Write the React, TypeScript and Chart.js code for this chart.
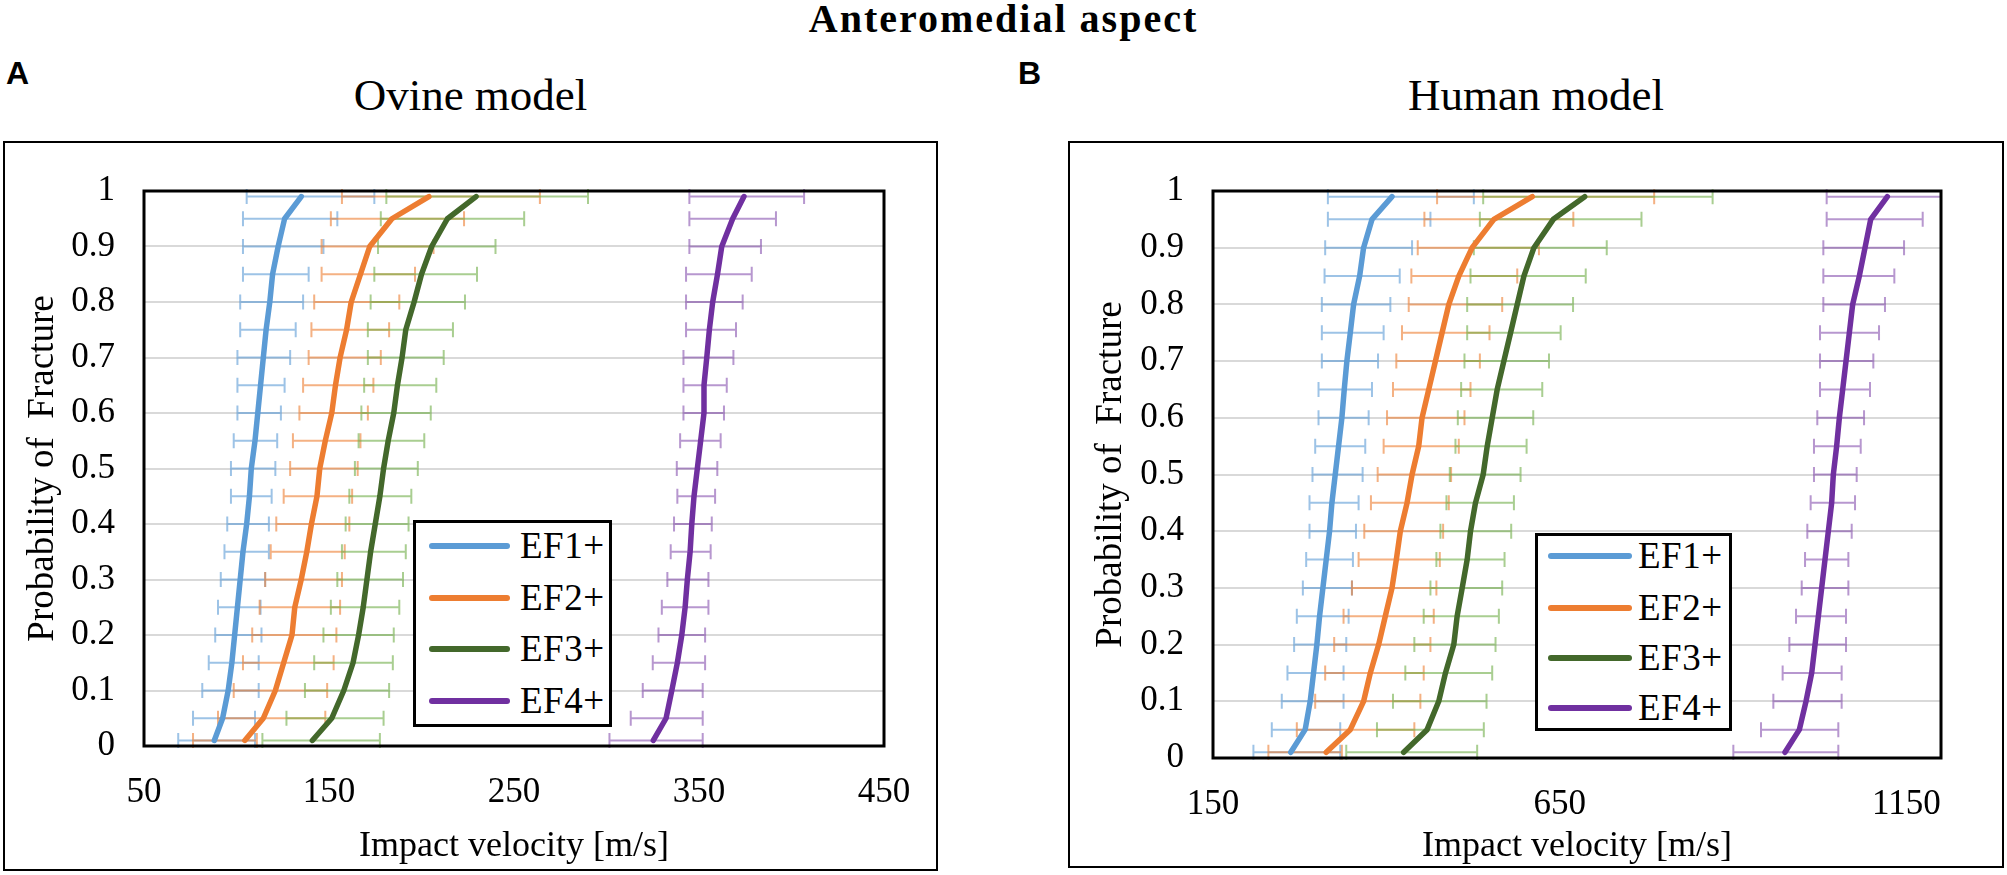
import React, { useEffect, useRef } from "react";
import Chart from "chart.js/auto";

Chart.defaults.font.family = "'Liberation Serif', 'Times New Roman', serif";
Chart.defaults.color = "#000";

// probability levels shared by every curve (end points sit just inside 0 and 1)
const probability = [0.01, 0.05, 0.1, 0.15, 0.2, 0.25, 0.3, 0.35, 0.4, 0.45, 0.5, 0.55, 0.6, 0.65, 0.7, 0.75, 0.8, 0.85, 0.9, 0.95, 0.99];
const yTicks = [0, 0.1, 0.2, 0.3, 0.4, 0.5, 0.6, 0.7, 0.8, 0.9, 1];
const ovineTicks = [50, 150, 250, 350, 450];
const humanTicks = [150, 650, 1150];
const seriesNames = ["EF1+", "EF2+", "EF3+", "EF4+"];

// Ovine model (panel A): mean velocity and error bar ends
const ovineEF1 = [88, 92.5, 95.5, 97.5, 99, 100.5, 102, 103.5, 105.5, 107, 108, 110, 111.5, 113, 114.5, 116, 118, 119.5, 122.5, 126, 135];
const ovineEF1Low = [68.5, 76.5, 81.5, 85, 88.5, 90, 91.5, 93.5, 95, 97, 97, 98.5, 100.5, 100.5, 100.5, 102, 102, 103.5, 103.5, 103.5, 105.5];
const ovineEF1High = [110, 110, 112, 112, 113.5, 113, 115.5, 117.5, 117.5, 119, 121, 122, 124, 126, 129, 132, 136, 139, 147, 154.5, 174.5];

const ovineEF2 = [104.5, 114.5, 121, 125.5, 130, 131.5, 135, 138, 140.5, 143.5, 145, 148, 151.5, 153.5, 156, 159.5, 162, 167, 172, 184, 204];
const ovineEF2Low = [76.5, 90, 98.5, 103.5, 108.5, 112.5, 115.5, 118.5, 121.5, 125.5, 129, 130.5, 134, 136, 139, 140.5, 142, 146, 146, 151, 157];
const ovineEF2High = [111, 148, 149, 152.5, 154, 156, 157, 158.5, 161, 162.5, 165.5, 167, 171, 174, 178, 182.5, 188, 196.5, 206.5, 223, 264];

const ovineEF3 = [141, 151.5, 158, 163, 166, 168.5, 170.5, 172.5, 175, 177.5, 179.5, 182, 185, 187, 189.5, 191.5, 196, 200, 205.5, 214, 229.5];
const ovineEF3Low = [114, 127, 137, 142, 147, 151, 154.5, 157, 159, 161, 164, 166, 167.5, 169, 171, 171, 172.5, 174.5, 176.5, 178, 181];
const ovineEF3High = [177.5, 179.5, 182.5, 184.5, 185, 188, 190, 191.5, 193, 194.5, 198, 201.5, 205, 208, 212, 217, 223.5, 230, 240, 255.5, 290];

const ovineEF4 = [325.3, 332.2, 335.3, 338.3, 340.7, 342.5, 343.7, 345.2, 346.1, 347.3, 349.1, 350.9, 352.7, 352.7, 354.2, 355.6, 357.4, 360, 362.3, 368.2, 374.3];
const ovineEF4Low = [301.6, 313.1, 319.6, 325, 328.1, 329.9, 332.9, 334.7, 336.5, 338.3, 338, 339.8, 341.6, 341.6, 341.6, 343, 343, 343, 344.8, 344.8, 344.8];
const ovineEF4High = [352, 352, 352, 353.3, 353.3, 355.1, 355.1, 356.3, 356.9, 358.7, 359.9, 361.7, 363.5, 365, 368.6, 370, 373.6, 378.5, 383.5, 391.6, 406.8];

// Human model (panel B)
const humanEF1 = [262.2, 282.9, 290.2, 295, 299.8, 303.7, 308.5, 313.3, 318.1, 321.5, 326.3, 331.1, 335.9, 339.3, 343.1, 348, 352.8, 361.5, 367.2, 379.3, 408.2];
const humanEF1Low = [208.3, 234.8, 249.2, 257.4, 267, 270.9, 279.6, 284.4, 289.2, 289.2, 293.5, 297.4, 302.2, 302.2, 307, 307, 307, 310.9, 311.8, 315.7, 315.7];
const humanEF1High = [333.5, 333.5, 338.3, 338.3, 342.2, 345.6, 350.4, 351.8, 356.2, 360, 365.8, 369.6, 374.5, 379.3, 388, 396.1, 405.8, 419.3, 437.1, 463.6, 526.2];

const humanEF2 = [313.3, 348, 367.2, 376.9, 388.9, 398.5, 408.2, 414.4, 420.2, 429.9, 437.1, 446.7, 451.5, 461.2, 470.8, 480.4, 490.1, 504.5, 523.8, 555.1, 610.5];
const humanEF2Low = [229.9, 270.9, 297.4, 311.8, 324.8, 338.3, 350.4, 360, 368.2, 377.8, 387.5, 396.1, 401, 409.6, 414.4, 422.6, 432.3, 436.1, 445.3, 454.9, 473.2];
const humanEF2High = [335.9, 440.4, 449.1, 453.9, 463.6, 468.4, 472.2, 477.1, 481.9, 490.1, 493.4, 504.5, 512.7, 521.4, 534.9, 548.8, 567.1, 588.8, 620.1, 669.7, 786.3];

const humanEF3 = [425, 458.8, 475.6, 485.3, 497.3, 502.1, 509.4, 516.6, 521.4, 528.6, 539.7, 545.5, 552.7, 559.9, 569.5, 579.2, 588.8, 598.4, 612.9, 640.8, 686.1];
const humanEF3Low = [342.2, 386.5, 409.6, 427.4, 440.4, 453.9, 463.6, 472.2, 478, 486.7, 491.5, 499.7, 503.1, 507.9, 512.7, 516.6, 516.6, 521.4, 526.2, 534.9, 539.7];
const humanEF3High = [531, 540.6, 544.5, 552.7, 557.5, 562.3, 567.1, 570.5, 580.1, 584, 593.6, 602.3, 611.9, 624.9, 634.6, 651.4, 669.3, 687.6, 717.9, 768, 870.6];

const humanEF4 = [975, 995.7, 1005.3, 1013.5, 1018.3, 1023.1, 1027.9, 1032.7, 1037.5, 1042.3, 1044.7, 1049.5, 1053.4, 1058.2, 1063, 1067.8, 1072.6, 1082.2, 1090.4, 1098.6, 1122.6];
const humanEF4Low = [900.5, 940.4, 958.2, 971.6, 981.3, 990.9, 999.1, 1003.9, 1007.2, 1012, 1016.8, 1016.8, 1021.6, 1025.5, 1025.5, 1025.5, 1030.3, 1030.3, 1030.3, 1035.1, 1035.1];
const humanEF4High = [1051.9, 1051.9, 1056.7, 1056.7, 1063, 1063, 1066.4, 1066.4, 1071.2, 1076, 1078.4, 1084.2, 1089, 1097.6, 1102.4, 1110.6, 1119.2, 1132.7, 1146.7, 1173.6, 1210];

const LINE_COLORS = ["#5B9BD5", "#ED7D31", "#43682B", "#7030A0"];
const BAR_COLORS = [
  "rgba(91, 155, 213, 0.6)",
  "rgba(237, 125, 49, 0.6)",
  "rgba(112, 173, 71, 0.6)",
  "rgba(112, 48, 160, 0.5)",
];

interface Series {
  mid: number[];
  low: number[];
  high: number[];
}

const ovineSeries: Series[] = [
  { mid: ovineEF1, low: ovineEF1Low, high: ovineEF1High },
  { mid: ovineEF2, low: ovineEF2Low, high: ovineEF2High },
  { mid: ovineEF3, low: ovineEF3Low, high: ovineEF3High },
  { mid: ovineEF4, low: ovineEF4Low, high: ovineEF4High },
];

const humanSeries: Series[] = [
  { mid: humanEF1, low: humanEF1Low, high: humanEF1High },
  { mid: humanEF2, low: humanEF2Low, high: humanEF2High },
  { mid: humanEF3, low: humanEF3Low, high: humanEF3High },
  { mid: humanEF4, low: humanEF4Low, high: humanEF4High },
];

// horizontal error bars, drawn under the curves
const errorBarPlugin = {
  id: "errorBars",
  beforeDatasetsDraw(chart: any) {
    const { ctx, chartArea, scales } = chart;
    ctx.save();
    ctx.beginPath();
    ctx.rect(chartArea.left, 0, chartArea.right - chartArea.left, chart.height);
    ctx.clip();
    chart.data.datasets.forEach((ds: any) => {
      ctx.strokeStyle = ds.barColor;
      ctx.lineWidth = 2;
      ctx.beginPath();
      ds.data.forEach((pt: any, i: number) => {
        const y = scales.y.getPixelForValue(pt.y);
        const x0 = scales.x.getPixelForValue(ds.low[i]);
        const x1 = scales.x.getPixelForValue(ds.high[i]);
        ctx.moveTo(x0, y);
        ctx.lineTo(x1, y);
        ctx.moveTo(x0, y - 7.5);
        ctx.lineTo(x0, y + 7.5);
        ctx.moveTo(x1, y - 7.5);
        ctx.lineTo(x1, y + 7.5);
      });
      ctx.stroke();
    });
    ctx.restore();
  },
};

const framePlugin = {
  id: "plotFrame",
  afterDraw(chart: any) {
    const { ctx, chartArea } = chart;
    ctx.save();
    ctx.strokeStyle = "#000";
    ctx.lineWidth = 3;
    ctx.strokeRect(chartArea.left, chartArea.top, chartArea.right - chartArea.left, chartArea.bottom - chartArea.top);
    ctx.restore();
  },
};

interface PanelProps {
  left: number;
  top: number;
  width: number;
  height: number;
  xMin: number;
  xMax: number;
  xTicks: number[];
  series: Series[];
  padRight: number;
  yAxisWidth: number;
  xAxisHeight: number;
  yTitlePad: number;
  xTitlePad: number;
}

const ProbabilityPanel: React.FC<PanelProps> = (p) => {
  const canvasRef = useRef<HTMLCanvasElement>(null);

  useEffect(() => {
    if (!canvasRef.current) return;
    const chart = new Chart(canvasRef.current, {
      type: "line",
      data: {
        datasets: p.series.map((s, k) => ({
          label: seriesNames[k],
          data: probability.map((y, i) => ({ x: s.mid[i], y })),
          low: s.low,
          high: s.high,
          barColor: BAR_COLORS[k],
          borderColor: LINE_COLORS[k],
          borderWidth: 5.5,
          borderJoinStyle: "round",
          borderCapStyle: "round",
          pointRadius: 0,
          tension: 0,
        })) as any,
      },
      options: {
        animation: false,
        responsive: false,
        layout: { padding: { top: 39, right: p.padRight, left: 0, bottom: 0 } },
        plugins: { legend: { display: false }, tooltip: { enabled: false } },
        scales: {
          x: {
            type: "linear",
            min: p.xMin,
            max: p.xMax,
            afterFit: (s: any) => {
              s.height = p.xAxisHeight;
            },
            afterBuildTicks: (s: any) => {
              s.ticks = p.xTicks.map((v) => ({ value: v }));
            },
            grid: { display: false, drawTicks: false },
            border: { display: false },
            ticks: { padding: 26, autoSkip: false, maxRotation: 0, font: { size: 35 }, callback: (v: any) => String(v) },
            title: {
              display: true,
              text: "Impact velocity [m/s]",
              font: { size: 36 },
              padding: { top: 0, bottom: p.xTitlePad },
            },
          },
          y: {
            type: "linear",
            min: 0,
            max: 1,
            afterFit: (s: any) => {
              s.width = p.yAxisWidth;
            },
            afterBuildTicks: (s: any) => {
              s.ticks = yTicks.map((v) => ({ value: v }));
            },
            grid: { color: "#d9d9d9", lineWidth: 2, drawTicks: false },
            border: { display: false },
            ticks: { padding: 29, font: { size: 35 }, callback: (v: any) => String(v) },
            title: {
              display: true,
              text: "Probability of  Fracture",
              font: { size: 37 },
              padding: { top: p.yTitlePad, bottom: 0 },
            },
          },
        },
      },
      plugins: [errorBarPlugin, framePlugin],
    });
    return () => chart.destroy();
  }, []);

  return (
    <>
      <canvas
        ref={canvasRef}
        width={p.width}
        height={p.height}
        style={{ position: "absolute", left: p.left, top: p.top, width: p.width, height: p.height }}
      />
      <div
        style={{
          position: "absolute",
          left: p.left,
          top: p.top,
          width: p.width,
          height: p.height,
          border: "2px solid #000",
          boxSizing: "border-box",
          pointerEvents: "none",
        }}
      />
    </>
  );
};

const serif = "'Liberation Serif', 'Times New Roman', serif";
const sans = "'Liberation Sans', Arial, sans-serif";

const Legend: React.FC<{ left: number; top: number; width: number; height: number; rows: number[]; swatchX: number; swatchW: number; textX: number }> = (l) => (
  <div
    style={{
      position: "absolute",
      left: l.left,
      top: l.top,
      width: l.width,
      height: l.height,
      border: "3px solid #000",
      boxSizing: "border-box",
      background: "#fff",
    }}
  >
    {seriesNames.map((name, k) => (
      <React.Fragment key={name}>
        <div
          style={{
            position: "absolute",
            left: l.swatchX - 3,
            top: l.rows[k] - 3 - 3,
            width: l.swatchW,
            height: 6,
            borderRadius: 3,
            background: LINE_COLORS[k],
          }}
        />
        <div
          style={{
            position: "absolute",
            left: l.textX - 3,
            top: l.rows[k] - 3 - 20,
            lineHeight: "40px",
            fontSize: 37,
            letterSpacing: 0.5,
            fontFamily: serif,
            whiteSpace: "nowrap",
          }}
        >
          {name}
        </div>
      </React.Fragment>
    ))}
  </div>
);

export default function App() {
  return (
    <div style={{ position: "absolute", left: 0, top: 0, width: 2007, height: 875, background: "#fff", overflow: "hidden" }}>
      <div
        style={{
          position: "absolute",
          left: 0,
          top: -1,
          width: 2007,
          textAlign: "center",
          fontFamily: serif,
          fontWeight: "bold",
          fontSize: 40,
          lineHeight: "40px",
          letterSpacing: 2,
        }}
      >
        Anteromedial aspect
      </div>
      <div style={{ position: "absolute", left: 6, top: 57, fontFamily: sans, fontWeight: "bold", fontSize: 32, lineHeight: "32px" }}>A</div>
      <div style={{ position: "absolute", left: 1018, top: 57, fontFamily: sans, fontWeight: "bold", fontSize: 32, lineHeight: "32px" }}>B</div>
      <div style={{ position: "absolute", left: 3, top: 73, width: 935, textAlign: "center", fontFamily: serif, fontSize: 45, lineHeight: "45px" }}>
        Ovine model
      </div>
      <div style={{ position: "absolute", left: 1068, top: 73, width: 936, textAlign: "center", fontFamily: serif, fontSize: 45, lineHeight: "45px" }}>
        Human model
      </div>

      <ProbabilityPanel
        left={3}
        top={141}
        width={935}
        height={730}
        xMin={50}
        xMax={450}
        xTicks={ovineTicks}
        series={ovineSeries}
        padRight={54}
        yAxisWidth={141}
        xAxisHeight={125}
        yTitlePad={18}
        xTitlePad={3}
      />
      <ProbabilityPanel
        left={1068}
        top={141}
        width={936}
        height={727}
        xMin={150}
        xMax={1200}
        xTicks={humanTicks}
        series={humanSeries}
        padRight={63}
        yAxisWidth={145}
        xAxisHeight={110}
        yTitlePad={21}
        xTitlePad={0}
      />

      <Legend left={413} top={520} width={199} height={207} rows={[26, 78, 129, 181]} swatchX={16} swatchW={81} textX={107} />
      <Legend left={1535} top={533} width={197} height={198} rows={[23, 75, 125, 175]} swatchX={13} swatchW={84} textX={103} />
    </div>
  );
}
